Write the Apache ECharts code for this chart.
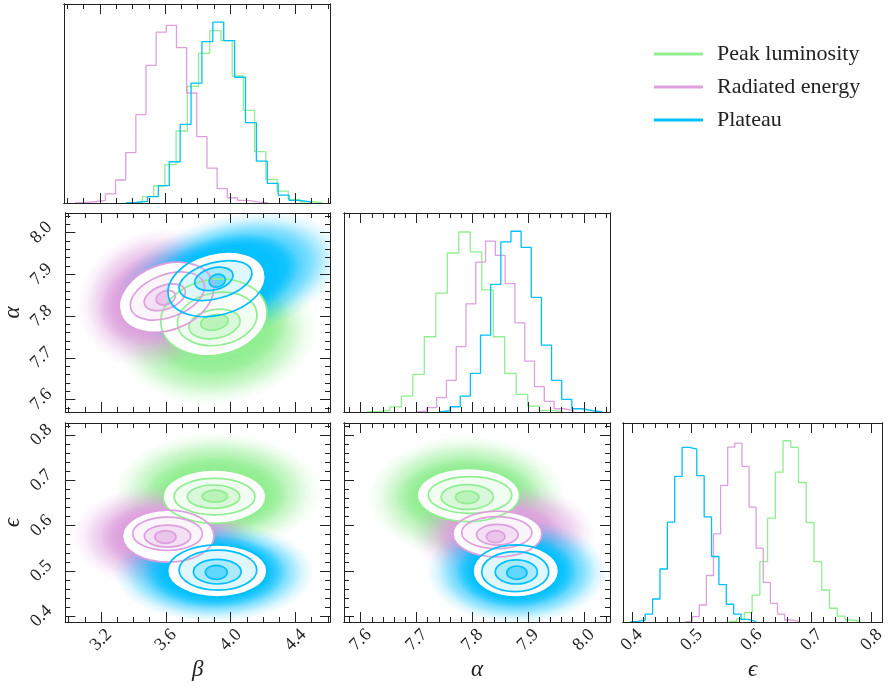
<!DOCTYPE html>
<html>
<head>
<meta charset="utf-8">
<title>Corner plot</title>
<script src="https://cdn.jsdelivr.net/npm/echarts@6/dist/echarts.min.js"></script>
<style>
  html, body { margin: 0; padding: 0; background: #fff; }
  #chart { width: 888px; height: 686px; }
</style>
</head>
<body>
<div id="chart"></div>
<script>
// ---------- data ----------
const seriesNames = ['Peak luminosity', 'Radiated energy', 'Plateau'];
const seriesColors = ['#90ee90', '#dda0dd', '#00bfff'];

const betaRange = [2.979, 4.613];
const alphaRange = [7.570, 8.047];
const epsRangeX = [0.3854, 0.818];
const epsRangeY = [0.3874, 0.8265];
const histRange = [0, 110];

const betaTicks = [3.2, 3.6, 4.0, 4.4];
const alphaTicks = [7.6, 7.7, 7.8, 7.9, 8.0];
const epsTicks = [0.4, 0.5, 0.6, 0.7, 0.8];

// 1d histograms: bins = [first edge, bin width], heights in relative counts
const peakBetaBins = [3.392, 0.0689];
const peakBetaHist = [0.7, 3.5, 9.4, 21.2, 39.8, 64.5, 82.7, 95.3, 89.7, 70.2, 51.2, 28.4, 13.1, 6.6, 2.0, 0.7, 0.4];
const radBetaBins = [3.046, 0.0624];
const radBetaHist = [0.3, 0.7, 1.5, 5.0, 12.7, 27.8, 48.8, 76.1, 94.5, 98.2, 85.9, 60.8, 36.7, 19.3, 7.9, 2.9, 1.5, 0.6, 0.2];
const platBetaBins = [3.358, 0.0669];
const platBetaHist = [0.3, 0.9, 3.5, 9.6, 22.8, 43.5, 66.3, 89.2, 100, 89.7, 69.5, 44.4, 23.2, 10.9, 4.4, 1.5, 0.6];

const peakAlphaBins = [7.611, 0.0206];
const peakAlphaHist = [0.4, 0.9, 2.8, 8.8, 20.8, 41.6, 65.7, 87.9, 99.5, 88.5, 67.5, 41.6, 21.3, 9.7, 3.3, 0.9, 0.4];
const radAlphaBins = [7.701, 0.01755];
const radAlphaHist = [0.55, 2.4, 7.9, 17.5, 36.1, 59.8, 82.9, 94.4, 86.6, 71.0, 49.3, 28.1, 14.0, 5.9, 1.8, 0.7];
const platAlphaBins = [7.742, 0.0182];
const platAlphaHist = [0.7, 2.9, 8.8, 21.3, 42.5, 70.5, 94.0, 99.9, 91.0, 63.4, 37.0, 17.5, 7.0, 1.8, 0.7, 0.2];

const peakEpsBins = [0.5621, 0.0129];
const peakEpsHist = [0.37, 1.7, 5.2, 14.9, 33.4, 57.4, 82.8, 100.2, 96.5, 77.1, 55.0, 33.4, 17.7, 7.6, 3.3, 1.1, 0.4];
const radEpsBins = [0.4889, 0.01186];
const radEpsHist = [0.37, 2.95, 9.4, 25.7, 48.7, 75.5, 96.7, 98.9, 86.0, 63.5, 40.8, 21.9, 10.3, 4.4, 1.1, 0.4];
const platEpsBins = [0.3979, 0.01229];
const platEpsHist = [0.37, 1.1, 4.4, 12.7, 29.3, 55.2, 80.5, 96.5, 95.6, 80.9, 58.1, 36.2, 20.7, 9.8, 4.4, 1.5, 0.4];

// 2d panels: [centre x, centre y, half width, half height, tilt deg]
// rows: outer scatter, dense scatter, then contour levels from outside in
const peakBetaAlpha = [
  [3.917, 7.753, 0.62, 0.165, 8], [3.917, 7.775, 0.45, 0.115, 8],
  [3.896, 7.797, 0.330, 0.0906, 10], [3.917, 7.793, 0.248, 0.0628, 10],
  [3.900, 7.781, 0.160, 0.0345, 10], [3.900, 7.785, 0.086, 0.0184, 10]
];
const radBetaAlpha = [
  [3.548, 7.841, 0.50, 0.165, 20], [3.575, 7.843, 0.40, 0.112, 20],
  [3.603, 7.845, 0.301, 0.0786, 20], [3.609, 7.848, 0.239, 0.0511, 20],
  [3.593, 7.845, 0.1325, 0.0285, 20], [3.599, 7.844, 0.062, 0.0165, 20]
];
const platBetaAlpha = [
  [3.990, 7.893, 0.72, 0.145, 15], [3.950, 7.887, 0.48, 0.105, 15],
  [3.913, 7.876, 0.307, 0.0737, 15], [3.906, 7.885, 0.231, 0.0433, 15],
  [3.896, 7.889, 0.121, 0.0261, 15], [3.917, 7.885, 0.051, 0.0152, 15]
];
const peakBetaEps = [
  [3.917, 0.675, 0.64, 0.130, 0], [3.910, 0.668, 0.45, 0.085, 0],
  [3.900, 0.664, 0.317, 0.0588, 0], [3.900, 0.664, 0.250, 0.0404, 0],
  [3.894, 0.664, 0.162, 0.0257, 0], [3.902, 0.665, 0.078, 0.0132, 0]
];
const radBetaEps = [
  [3.589, 0.576, 0.57, 0.116, 0], [3.595, 0.576, 0.40, 0.080, 0],
  [3.614, 0.577, 0.283, 0.0574, 0], [3.610, 0.582, 0.215, 0.0368, 0],
  [3.610, 0.577, 0.143, 0.0243, 0], [3.597, 0.575, 0.0655, 0.014, 0]
];
const platBetaEps = [
  [3.896, 0.497, 0.62, 0.110, 0], [3.905, 0.498, 0.44, 0.080, 0],
  [3.917, 0.500, 0.307, 0.0574, 0], [3.921, 0.502, 0.240, 0.0441, 0],
  [3.917, 0.4985, 0.1474, 0.0272, 0], [3.911, 0.497, 0.0676, 0.0154, 0]
];
const peakAlphaEps = [
  [7.790, 0.6625, 0.178, 0.136, 0], [7.792, 0.6650, 0.130, 0.086, 0],
  [7.793, 0.6676, 0.0918, 0.0588, 0], [7.796, 0.6676, 0.075, 0.0404, 0],
  [7.791, 0.6632, 0.0468, 0.0272, 0], [7.791, 0.6625, 0.021, 0.014, 0]
];
const radAlphaEps = [
  [7.856, 0.583, 0.165, 0.112, 0], [7.848, 0.580, 0.115, 0.074, 0],
  [7.845, 0.5816, 0.0798, 0.0504, 0], [7.844, 0.5846, 0.063, 0.0353, 0],
  [7.845, 0.580, 0.0372, 0.0228, 0], [7.842, 0.5757, 0.0168, 0.0132, 0]
];
const platAlphaEps = [
  [7.880, 0.4985, 0.162, 0.116, 0], [7.879, 0.4990, 0.110, 0.081, 0],
  [7.878, 0.500, 0.0768, 0.0574, 0], [7.877, 0.4985, 0.060, 0.0441, 0],
  [7.879, 0.4978, 0.0378, 0.0265, 0], [7.880, 0.4963, 0.018, 0.0147, 0]
];

// ---------- layout & helpers ----------
const serif = '"Liberation Serif", "DejaVu Serif", serif';
const ink = '#222';
const colLeft = [64, 344, 623], rowTop = [4, 213, 423];
const panelW = 266, panelH = 199;
const fillShare = [0, 0.12, 0.33, 0.62];

const grid = [], xAxis = [], yAxis = [], series = [];

function rgbOf(hex) {
  const n = parseInt(hex.slice(1), 16);
  return [n >> 16, (n >> 8) & 255, n & 255];
}
function tint(hex, t) {
  const mix = c => Math.round(255 + (c - 255) * t);
  const [r, g, b] = rgbOf(hex);
  return 'rgb(' + mix(r) + ',' + mix(g) + ',' + mix(b) + ')';
}
function rgba(hex, a) {
  const [r, g, b] = rgbOf(hex);
  return 'rgba(' + r + ',' + g + ',' + b + ',' + a + ')';
}

function minorOf(range, step, majors) {
  const out = [];
  for (let k = Math.ceil(range[0] / step - 1e-9); k * step <= range[1] + 1e-9; k++) {
    const v = +(k * step).toFixed(4);
    if (!majors.some(m => Math.abs(m - v) < 1e-6)) out.push(v);
  }
  return out;
}
const betaMinor = minorOf(betaRange, 0.1, betaTicks);
const alphaMinor = minorOf(alphaRange, 0.02, alphaTicks);
const epsMinorX = minorOf(epsRangeX, 0.02, epsTicks);
const epsMinorY = minorOf(epsRangeY, 0.02, epsTicks);

function axis(g, pos, range, ticks, len, label) {
  const horizontal = pos === 'bottom' || pos === 'top';
  return {
    type: 'value', gridIndex: g, position: pos, min: range[0], max: range[1], z: 5,
    splitLine: { show: false },
    axisLine: { show: true, onZero: false, lineStyle: { color: ink, width: 1 } },
    axisTick: ticks ? { show: true, inside: true, length: len, customValues: ticks,
      lineStyle: { color: ink, width: 1 } } : { show: false },
    axisLabel: label ? { show: true, customValues: ticks, rotate: 45,
      align: 'center', verticalAlign: 'middle', margin: horizontal ? 18 : 24,
      fontFamily: serif, fontSize: 18, color: ink, formatter: v => v.toFixed(1) } : { show: false }
  };
}

function panel(row, col, xr, xt, xm, yr, yt, ym, xName, yName) {
  const g = grid.length;
  grid.push({ left: colLeft[col], top: rowTop[row], width: panelW, height: panelH });
  const xi = xAxis.length, yi = yAxis.length;
  const bottom = axis(g, 'bottom', xr, xt, 10, row === 2);
  if (xName) Object.assign(bottom, { name: xName, nameLocation: 'middle', nameGap: 36,
    nameTextStyle: { fontFamily: serif, fontStyle: 'italic', fontSize: 23, color: ink } });
  xAxis.push(bottom, axis(g, 'top', xr, xt, 10, false),
    axis(g, 'bottom', xr, xm, 5, false), axis(g, 'top', xr, xm, 5, false));
  const left = axis(g, 'left', yr, yt, 10, col === 0 && !!yt);
  if (yName) Object.assign(left, { name: yName, nameLocation: 'middle', nameGap: 40,
    nameTextStyle: { fontFamily: serif, fontStyle: 'italic', fontSize: 23, color: ink } });
  yAxis.push(left, axis(g, 'right', yr, yt, 10, false),
    axis(g, 'left', yr, ym, 5, false), axis(g, 'right', yr, ym, 5, false));
  return { xi, yi };
}

function stepPoints(bins, heights) {
  const pts = [[bins[0], 0]];
  heights.forEach((h, i) => {
    const a = bins[0] + i * bins[1];
    pts.push([a, h], [a + bins[1], h]);
  });
  pts.push([bins[0] + heights.length * bins[1], 0]);
  return pts;
}

function histSeries(ax, k, bins, heights) {
  return {
    type: 'line', name: seriesNames[k], xAxisIndex: ax.xi, yAxisIndex: ax.yi,
    data: stepPoints(bins, heights), showSymbol: false, clip: true, silent: true,
    color: seriesColors[k], lineStyle: { color: seriesColors[k], width: 1.3 },
    itemStyle: { color: seriesColors[k] }
  };
}

// scatter clouds fade out radially
const cloudStops = [
  [[0, 0.9], [0.5, 0.85], [0.72, 0.5], [0.88, 0.15], [1, 0]],
  [[0, 0.9], [0.72, 0.8], [1, 0]]
];

function ellipseSeries(ax, k, items, phase) {
  const color = seriesColors[k];
  const data = phase === 'cloud'
    ? items.slice(0, 2).map((d, i) => d.concat(i))
    : items.slice(2).map((d, i) => d.concat(i + 2));
  return {
    type: 'custom', name: seriesNames[k], xAxisIndex: ax.xi, yAxisIndex: ax.yi,
    clip: true, silent: true, itemStyle: { color }, data,
    renderItem(params, api) {
      const c = api.coord([api.value(0), api.value(1)]);
      const s = api.size([api.value(2), api.value(3)]);
      const layer = api.value(5);
      const rotation = api.value(4) * Math.PI / 180;
      if (phase === 'cloud') {
        return {
          type: 'circle', x: c[0], y: c[1], rotation, scaleX: s[0] / s[1], scaleY: 1,
          shape: { cx: 0, cy: 0, r: s[1] },
          style: { fill: { type: 'radial', x: 0.5, y: 0.5, r: 0.5,
            colorStops: cloudStops[layer].map(([o, a]) => ({ offset: o, color: rgba(color, a) })) } }
        };
      }
      const style = phase === 'fill'
        ? { fill: layer === 2 ? '#fff' : tint(color, fillShare[layer - 2]) }
        : { fill: 'none', stroke: color, lineWidth: 1.7 };
      return {
        type: 'ellipse', x: c[0], y: c[1], rotation,
        shape: { cx: 0, cy: 0, rx: s[0], ry: s[1] }, style
      };
    }
  };
}

function densityPanel(ax, sets) {
  ['cloud', 'fill', 'line'].forEach(phase => {
    sets.forEach((items, k) => series.push(ellipseSeries(ax, k, items, phase)));
  });
}

// ---------- panels ----------
const pBeta = panel(0, 0, betaRange, betaTicks, betaMinor, histRange, null, null);
series.push(histSeries(pBeta, 0, peakBetaBins, peakBetaHist),
  histSeries(pBeta, 1, radBetaBins, radBetaHist),
  histSeries(pBeta, 2, platBetaBins, platBetaHist));

const pBetaAlpha = panel(1, 0, betaRange, betaTicks, betaMinor, alphaRange, alphaTicks, alphaMinor, null, 'α');
densityPanel(pBetaAlpha, [peakBetaAlpha, radBetaAlpha, platBetaAlpha]);

const pAlpha = panel(1, 1, alphaRange, alphaTicks, alphaMinor, histRange, null, null);
series.push(histSeries(pAlpha, 0, peakAlphaBins, peakAlphaHist),
  histSeries(pAlpha, 1, radAlphaBins, radAlphaHist),
  histSeries(pAlpha, 2, platAlphaBins, platAlphaHist));

const pBetaEps = panel(2, 0, betaRange, betaTicks, betaMinor, epsRangeY, epsTicks, epsMinorY, 'β', 'ϵ');
densityPanel(pBetaEps, [peakBetaEps, radBetaEps, platBetaEps]);

const pAlphaEps = panel(2, 1, alphaRange, alphaTicks, alphaMinor, epsRangeY, epsTicks, epsMinorY, 'α', null);
densityPanel(pAlphaEps, [peakAlphaEps, radAlphaEps, platAlphaEps]);

const pEps = panel(2, 2, epsRangeX, epsTicks, epsMinorX, histRange, null, null, 'ϵ', null);
series.push(histSeries(pEps, 0, peakEpsBins, peakEpsHist),
  histSeries(pEps, 1, radEpsBins, radEpsHist),
  histSeries(pEps, 2, platEpsBins, platEpsHist));

const chart = echarts.init(document.getElementById('chart'));
chart.setOption({
  animation: false,
  backgroundColor: '#fff',
  legend: {
    orient: 'vertical', left: 649, top: 37,
    itemWidth: 49, itemHeight: 3, itemGap: 9, icon: 'rect',
    selectedMode: false,
    textStyle: { fontFamily: serif, fontSize: 22, color: ink, lineHeight: 24, padding: [0, 0, 0, 9] },
    data: seriesNames.map((n, i) => ({ name: n, itemStyle: { color: seriesColors[i] } }))
  },
  grid, xAxis, yAxis, series
});
</script>
</body>
</html>
